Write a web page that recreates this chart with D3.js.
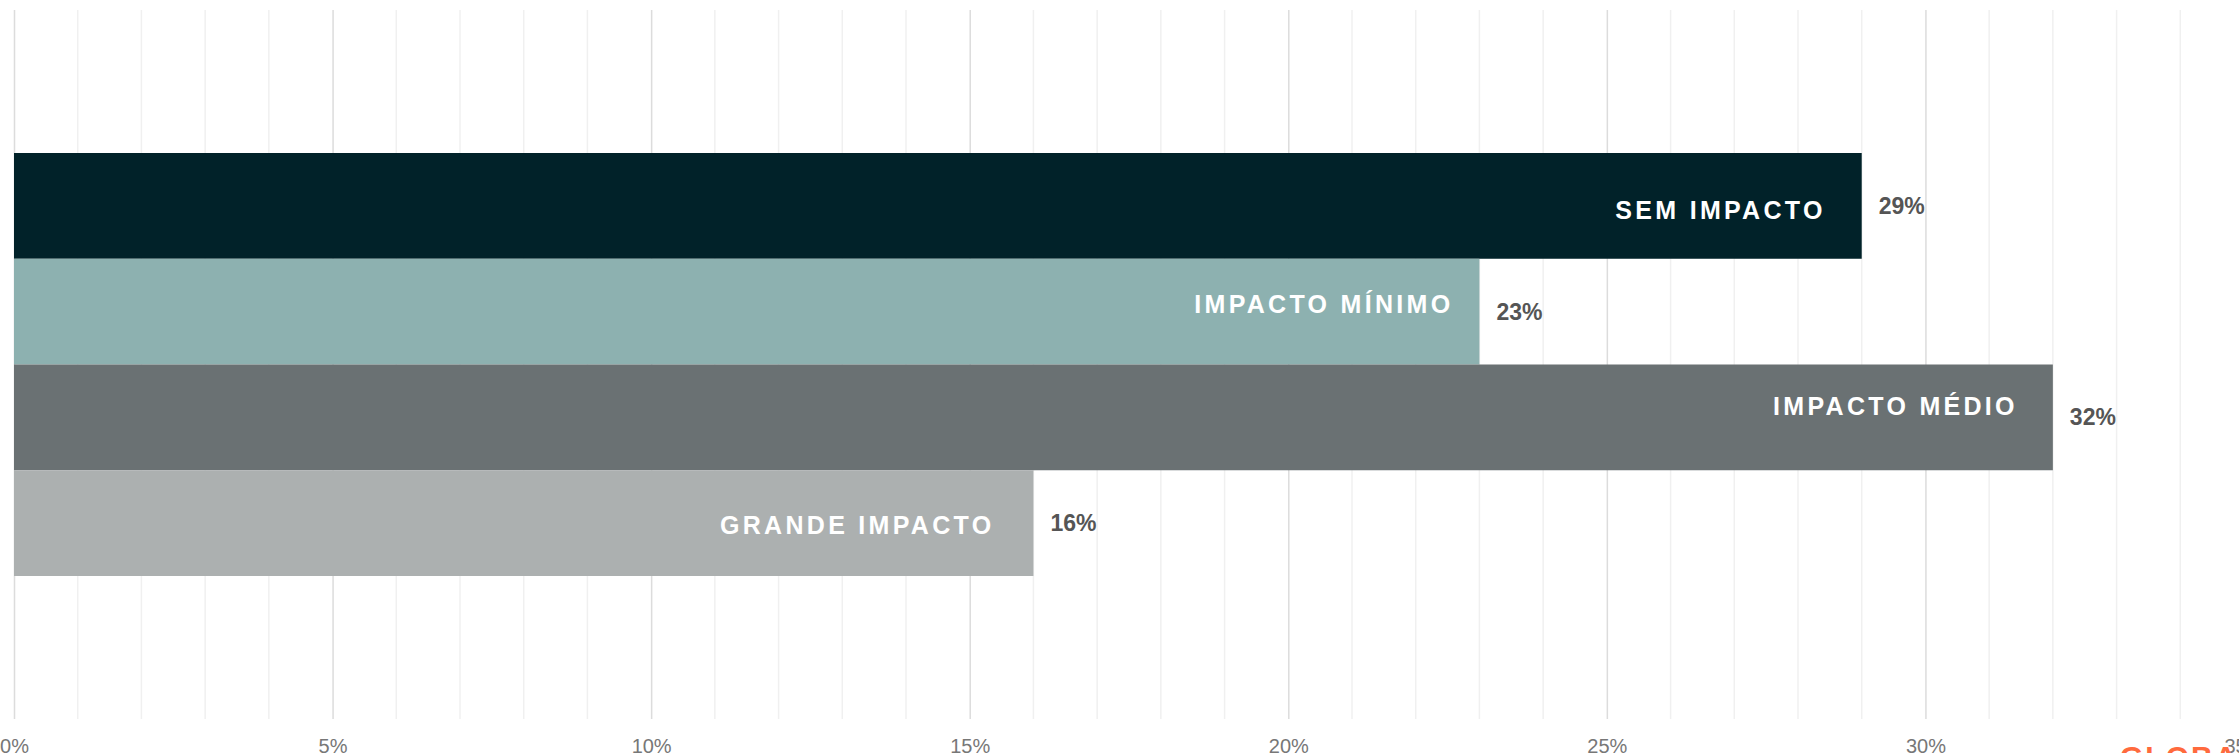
<!DOCTYPE html>
<html>
<head>
<meta charset="utf-8">
<script src="https://cdn.jsdelivr.net/npm/d3@7"></script>
<style>
  html, body { margin: 0; padding: 0; background: #fff; overflow: hidden; }
  svg { display: block; font-family: "Liberation Sans", Arial, sans-serif; }
</style>
</head>
<body>
<svg id="chart" width="2239" height="753"></svg>
<script>
// chart data
var categories = ['SEM IMPACTO', 'IMPACTO MÍNIMO', 'IMPACTO MÉDIO', 'GRANDE IMPACTO'];
var values = [29, 23, 32, 16];
var barColors = ['#012229', '#8db1b0', '#6a7173', '#acb0b0'];
var majorTicks = [0, 5, 10, 15, 20, 25, 30, 35];
var minorTicks = d3.range(0, 36, 1);

var width = 2239, height = 753;
var svg = d3.select('#chart');

var x = d3.scaleLinear()
    .domain([0, 35])
    .range([14, 2244]);

var y = d3.scaleBand()
    .domain(categories)
    .range([153, 576])
    .padding(0);

var gridTop = 10, gridBottom = 719;

// minor grid
svg.append('g')
    .selectAll('line')
    .data(minorTicks.filter(function (d) { return d % 5 !== 0; }))
    .enter().append('line')
    .attr('x1', function (d) { return x(d); })
    .attr('x2', function (d) { return x(d); })
    .attr('y1', gridTop)
    .attr('y2', gridBottom)
    .attr('stroke', '#f0f0f0')
    .attr('stroke-width', 1.5);

// major grid + tick labels via axis
var axis = d3.axisBottom(x)
    .tickValues(majorTicks)
    .tickSize(-(gridBottom - gridTop))
    .tickFormat(function (d) { return d + '%'; });

var gx = svg.append('g')
    .attr('transform', 'translate(0,' + gridBottom + ')')
    .call(axis);

gx.select('.domain').remove();
gx.selectAll('.tick line')
    .attr('stroke', '#dcdcdc')
    .attr('stroke-width', 1.5);
gx.selectAll('.tick text')
    .attr('y', 34)
    .attr('dy', 0)
    .attr('fill', '#777')
    .style('font-size', '20px')
    .style('font-family', '"Liberation Sans", Arial, sans-serif');

// bars
svg.append('g')
    .selectAll('rect')
    .data(categories)
    .enter().append('rect')
    .attr('x', x(0))
    .attr('y', function (d) { return y(d); })
    .attr('width', function (d, i) { return x(values[i]) - x(0); })
    .attr('height', y.bandwidth())
    .attr('fill', function (d, i) { return barColors[i]; });

// labels inside bars
var labelPad = [36, 26, 35, 39];
var labelDy = [4, -7, -11, 2];
svg.append('g')
    .selectAll('text')
    .data(categories)
    .enter().append('text')
    .attr('x', function (d, i) { return x(values[i]) - labelPad[i]; })
    .attr('y', function (d, i) { return y(d) + y.bandwidth() / 2 + labelDy[i]; })
    .attr('dy', '0.35em')
    .attr('text-anchor', 'end')
    .attr('fill', '#fff')
    .style('font-size', '25px')
    .style('font-weight', 'bold')
    .style('letter-spacing', '3.3px')
    .text(function (d) { return d; });

// value labels
svg.append('g')
    .selectAll('text')
    .data(categories)
    .enter().append('text')
    .attr('x', function (d, i) { return x(values[i]) + 17; })
    .attr('y', function (d) { return y(d) + y.bandwidth() / 2; })
    .attr('dy', '0.35em')
    .attr('fill', '#555')
    .style('font-size', '23px')
    .style('font-weight', 'bold')
    .text(function (d, i) { return values[i] + '%'; });

// watermark, mostly cut off at the bottom edge
svg.append('text')
    .attr('x', 2120)
    .attr('y', 767)
    .attr('fill', '#ff6a3d')
    .style('font-size', '30px')
    .style('font-weight', 'bold')
    .style('letter-spacing', '2px')
    .text('GLOBAL');
</script>
</body>
</html>
